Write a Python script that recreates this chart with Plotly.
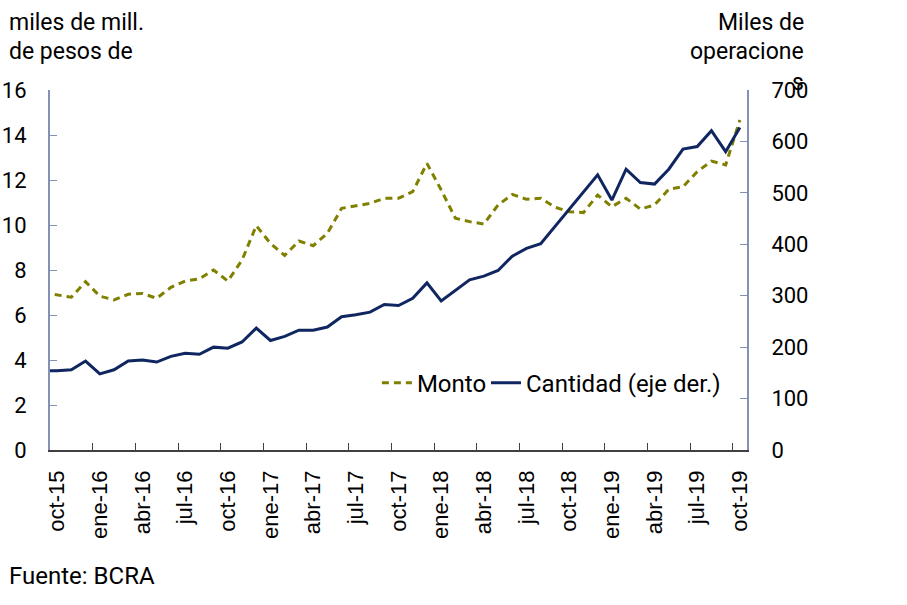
import plotly.graph_objects as go

# Months (sep-15 only partially visible at the left edge, clipped by the axis range)
months = ["sep-15", "oct-15", "nov-15", "dic-15",
          "ene-16", "feb-16", "mar-16", "abr-16", "may-16", "jun-16", "jul-16", "ago-16", "sep-16", "oct-16", "nov-16", "dic-16",
          "ene-17", "feb-17", "mar-17", "abr-17", "may-17", "jun-17", "jul-17", "ago-17", "sep-17", "oct-17", "nov-17", "dic-17",
          "ene-18", "feb-18", "mar-18", "abr-18", "may-18", "jun-18", "jul-18", "ago-18", "sep-18", "oct-18", "nov-18", "dic-18",
          "ene-19", "feb-19", "mar-19", "abr-19", "may-19", "jun-19", "jul-19", "ago-19", "sep-19", "oct-19"]

# Monto: miles de millones de pesos (left axis)
monto = [7.00, 6.89, 6.79, 7.48, 6.84, 6.67, 6.92, 6.96, 6.74, 7.23, 7.51, 7.61, 8.00, 7.51, 8.44, 9.97, 9.18,
         8.65, 9.29, 9.08, 9.63, 10.74, 10.84, 10.96, 11.19, 11.19, 11.48, 12.74, 11.56, 10.30, 10.15, 10.04,
         10.89, 11.36, 11.14, 11.19, 10.79, 10.59, 10.55, 11.33, 10.81, 11.19, 10.71, 10.89, 11.59, 11.70,
         12.37, 12.84, 12.67, 14.67]

# Cantidad: miles de operaciones (right axis)
cantidad = [154, 154, 156, 173, 148, 156, 173, 175, 171, 182, 188, 186, 200, 198, 210, 237, 213,
            221, 233, 233, 239, 259, 263, 268, 283, 281, 295, 325, 290, 311, 331, 338,
            349, 377, 392, 401, 434, 468, 502, 535, 486, 546, 520, 517, 546, 585,
            590, 621, 580, 627]

tick_labels = ["oct-15", "ene-16", "abr-16", "jul-16", "oct-16", "ene-17", "abr-17", "jul-17", "oct-17",
               "ene-18", "abr-18", "jul-18", "oct-18", "ene-19", "abr-19", "jul-19", "oct-19"]

left_ticks = [0, 2, 4, 6, 8, 10, 12, 14, 16]
right_ticks = [0, 100, 200, 300, 400, 500, 600, 700]

OLIVE = "#808000"
NAVY = "#0f2660"
AXIS_BLUE = "#8291b5"

fig = go.Figure()
fig.add_trace(go.Scatter(x=months, y=monto, name="Monto", mode="lines", legend="legend",
                         line=dict(color=OLIVE, width=3, dash="7px,5px")))
fig.add_trace(go.Scatter(x=months, y=cantidad, name="Cantidad (eje der.)", mode="lines", legend="legend2",
                         line=dict(color=NAVY, width=3), yaxis="y2"))

legend_style = dict(orientation="h", y=0.186, xanchor="left", yanchor="middle",
                    font=dict(family="Roboto", size=24, color="#000000"),
                    bgcolor="rgba(0,0,0,0)", itemwidth=30)

fig.update_layout(
    width=907, height=605,
    margin=dict(l=50, r=160, t=90, b=155, autoexpand=False),
    paper_bgcolor="white", plot_bgcolor="white",
    font=dict(family="Roboto", size=20, color="#000000"),
    showlegend=True,
    legend=dict(x=0.469, **legend_style),
    legend2=dict(x=0.6255, **legend_style),
    xaxis=dict(type="category", categoryorder="array", categoryarray=months,
               range=[0.5, len(months) - 0.5], automargin=False,
               tickmode="array", tickvals=tick_labels, ticktext=tick_labels,
               tickson="boundaries", ticks="inside", ticklen=7, tickwidth=1.3, tickcolor="#404040",
               tickangle=-90, tickfont=dict(family="Liberation Sans", size=22, color="#000000"),
               showline=True, linecolor="#404040", linewidth=1.5,
               showgrid=False, zeroline=False, ticklabelstandoff=10),
    yaxis=dict(range=[0, 16], tickmode="array", tickvals=left_ticks, automargin=False,
               ticks="inside", ticklen=7, tickwidth=1.3, tickcolor=AXIS_BLUE,
               showline=True, linecolor=AXIS_BLUE, linewidth=2,
               showgrid=False, zeroline=False,
               tickfont=dict(family="Roboto", size=22, color="#000000"), ticklabelstandoff=17),
    yaxis2=dict(range=[0, 700], tickmode="array", tickvals=right_ticks, overlaying="y", side="right",
                automargin=False,
                ticks="inside", ticklen=7, tickwidth=1.3, tickcolor=AXIS_BLUE,
                showline=True, linecolor=AXIS_BLUE, linewidth=2,
                showgrid=False, zeroline=False,
                tickfont=dict(family="Roboto", size=22, color="#000000"), ticklabelstandoff=18),
)

def px_x(px):
    return (px - 50) / 697.0

def px_y(py):
    return (450 - py) / 360.0

title_font = dict(family="Roboto", size=23, color="#000000")
for text, yc in [("miles de mill.", 22), ("de pesos de", 52)]:
    fig.add_annotation(text=text, xref="paper", yref="paper", x=px_x(7), y=px_y(yc),
                       xanchor="left", yanchor="middle", showarrow=False, font=title_font)
for text, yc in [("Miles de", 22), ("operacione", 52), ("s", 82)]:
    fig.add_annotation(text=text, xref="paper", yref="paper", x=px_x(806), y=px_y(yc),
                       xanchor="right", yanchor="middle", showarrow=False, font=title_font)
fig.add_annotation(text="Fuente: BCRA", xref="paper", yref="paper", x=px_x(7), y=px_y(576),
                   xanchor="left", yanchor="middle", showarrow=False,
                   font=dict(family="Roboto", size=24, color="#000000"))

fig.write_html("out.html", config={"displayModeBar": False},
               post_script="document.body.style.margin='0';")
